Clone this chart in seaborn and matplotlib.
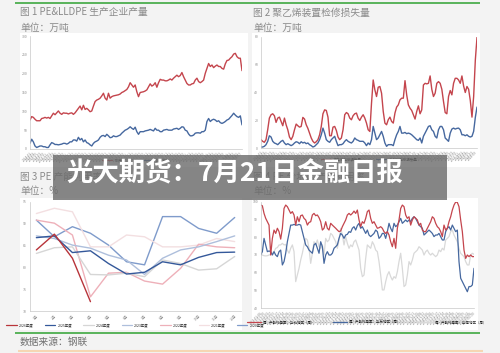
import numpy as np
import pandas as pd
import matplotlib
matplotlib.use("Agg")
import matplotlib.pyplot as plt
from matplotlib.patches import Rectangle
from matplotlib.lines import Line2D
import seaborn as sns

sns.set_style("white")
plt.rcParams['font.family'] = ['Noto Sans CJK SC', 'DejaVu Sans']
plt.rcParams['axes.unicode_minus'] = False

# ---------------- data ----------------
# Fig 1: PE & LLDPE output (万吨), monthly
pe_output = [77, 86, 84, 79, 75, 75, 75, 81, 82, 84,
             82, 84, 81, 88, 95, 91, 96, 101, 95, 92,
             96, 95, 95, 93, 95, 96, 92, 96, 102, 108,
             114, 104, 116, 105, 108, 104, 99, 101, 114, 126,
             130, 132, 135, 141, 148, 135, 130, 148, 135, 139,
             141, 142, 143, 144, 146, 150, 152, 155, 158, 165,
             176, 170, 164, 170, 152, 139, 150, 151, 152, 154,
             157, 165, 173, 167, 170, 176, 164, 176, 185, 183,
             183, 181, 181, 183, 186, 183, 188, 192, 196, 192,
             195, 203, 192, 183, 174, 170, 170, 173, 174, 183,
             188, 179, 176, 179, 183, 201, 214, 227, 219, 223,
             216, 220, 223, 219, 219, 214, 212, 226, 235, 236,
             241, 245, 252, 254, 245, 241, 241, 208]
lldpe_output = [15, 26, 19, 8, 4, 6, 8, 8, 6, 6,
                4, 4, 11, 17, 15, 12, 12, 11, 12, 13,
                15, 15, 13, 15, 19, 19, 24, 24, 21, 31,
                24, 28, 19, 24, 17, 15, 11, 8, 15, 19,
                21, 24, 31, 35, 36, 33, 39, 35, 30, 31,
                35, 33, 33, 35, 37, 42, 46, 50, 52, 55,
                59, 55, 52, 58, 46, 39, 46, 46, 46, 48,
                49, 50, 52, 50, 48, 55, 50, 50, 46, 46,
                50, 51, 52, 50, 50, 50, 53, 54, 55, 52,
                55, 59, 58, 50, 48, 40, 35, 35, 37, 42,
                43, 43, 42, 46, 46, 50, 73, 81, 73, 77,
                79, 77, 73, 75, 70, 68, 70, 73, 77, 79,
                84, 89, 95, 90, 86, 84, 88, 64]

# Fig 2: maintenance loss (万吨)
loss_pe = [6.0, 4.8, 4.1, 6.0, 13.1, 21.5, 23.9, 24.6, 23.2, 18.4,
           21.5, 22.2, 19.1, 16.0, 21.5, 16.7, 13.1, 7.9, 6.0, 8.4,
           13.1, 17.2, 16.0, 15.0, 15.5, 22.0, 20.8, 16.7, 14.1, 10.7,
           7.2, 4.8, 3.6, 4.5, 6.0, 9.5, 15.5, 24.6, 27.4, 27.0,
           22.2, 8.8, 8.8, 15.0, 15.5, 12.6, 7.9, 6.0, 7.2, 13.1,
           23.9, 25.5, 24.6, 21.5, 20.3, 23.2, 24.6, 25.1, 21.5, 19.8,
           22.2, 23.9, 21.5, 17.9, 13.1, 11.9, 32.2, 48.9, 41.8, 37.0,
           43.7, 44.2, 39.4, 26.3, 17.9, 16.7, 20.3, 22.2, 19.1, 17.9,
           25.1, 29.4, 31.0, 34.6, 35.8, 35.8, 48.4, 38.2, 31.0, 28.6,
           27.0, 23.9, 20.8, 26.3, 30.3, 24.6, 27.4, 45.3, 46.5, 46.1,
           46.5, 51.8, 42.2, 37.0, 39.4, 46.5, 47.7, 46.5, 42.2, 33.4,
           25.5, 24.6, 37.0, 41.3, 38.2, 46.5, 50.1, 50.1, 48.9, 46.5,
           51.8, 44.6, 39.9, 44.2, 42.2, 34.1, 22.2, 37.0, 63.2, 79.5]
loss_lldpe = [0.7, 0.7, 1.2, 2.4, 4.8, 8.8, 7.9, 4.8, 3.6, 3.1,
              2.4, 3.6, 4.8, 5.5, 3.6, 2.4, 3.1, 2.4, 1.7, 2.4,
              3.6, 4.5, 4.1, 3.1, 4.5, 3.6, 4.1, 3.1, 3.6, 2.4,
              1.7, 0.7, 1.2, 2.4, 3.6, 6.0, 9.5, 14.3, 10.7, 6.0,
              4.8, 4.1, 6.0, 7.2, 8.4, 4.8, 1.7, 2.4, 2.4, 3.1,
              4.8, 6.0, 4.8, 4.1, 3.6, 4.8, 7.2, 6.0, 5.5, 4.8,
              4.8, 4.8, 3.6, 1.7, 3.6, 2.4, 6.0, 15.5, 10.7, 6.0,
              7.2, 9.5, 11.9, 8.4, 3.6, 1.2, 2.4, 2.4, 2.4, 1.7,
              6.0, 9.5, 11.9, 15.5, 10.7, 10.7, 11.2, 10.3, 10.7, 10.3,
              9.5, 8.4, 7.2, 6.0, 5.5, 7.2, 3.6, 8.4, 10.7, 13.1,
              15.5, 16.0, 13.1, 11.9, 8.4, 7.2, 13.1, 15.5, 15.5, 13.1,
              7.2, 6.0, 4.8, 10.7, 13.6, 14.3, 13.6, 14.1, 14.3, 13.1,
              9.5, 9.5, 8.8, 9.5, 8.4, 7.9, 8.4, 12.0, 22.0, 29.4]

# Fig 3: PE capacity utilisation by year (%)
months = ["1月", "2月", "3月", "4月", "5月", "6月", "7月", "8月", "9月", "10月", "11月", "12月"]
util_2026 = [84.0, 87.6, 82.1, 72.2]
util_2025 = [86.8, 87.2, 83.4, 83.8, 80.9, 78.5, 78.9, 81.3, 80.6, 82.3, 83.4, 83.5]
util_2024 = [83.2, 84.5, 84.7, 78.4, 78.3, 78.7, 77.9, 81.7, 80.9, 79.4, 79.7, 82.5]
util_2023 = [87.2, 86.6, 85.1, 84.4, 82.8, 81.7, 78.4, 82.1, 84.0, 84.7, 85.9, 87.2]
util_2022 = [90.8, 90.1, 87.4, 73.3, 78.7, 78.9, 76.9, 76.2, 79.8, 85.3, 84.7, 84.5]
util_2021 = [92.3, 93.5, 92.7, 84.7, 84.7, 87.4, 87.0, 84.7, 84.7, 85.1, 86.6, 85.9]
util_2020 = [90.8, 87.0, 89.3, 87.8, 85.1, 81.3, 80.6, 91.6, 91.6, 88.9, 87.8, 91.4]
year_labels = ["2026年度", "2025年度", "2024年度", "2023年度", "2022年度", "2021年度", "2020年度"]

# Fig 4: weekly regional utilisation (%)
util_north = [98.1, 97.7, 93.4, 90.6, 88.7, 86.8, 69.9, 79.3, 84.0, 82.1,
              85.0, 83.1, 78.9, 85.0, 96.2, 98.1, 97.2, 95.3, 93.4, 94.4,
              92.5, 86.8, 91.5, 88.7, 92.1, 92.5, 90.6, 89.7, 86.8, 88.3,
              88.7, 92.5, 93.4, 92.1, 92.5, 91.0, 88.7, 84.0, 85.0, 88.7,
              85.0, 84.0, 87.8, 86.8, 85.9, 85.0, 84.0, 83.1, 83.5, 85.9,
              87.8, 89.7, 92.5, 93.4, 92.5, 93.4, 94.7, 93.4, 95.3, 89.7,
              85.9, 88.7, 87.8, 90.6, 94.4, 95.3, 90.6, 87.8, 88.7, 86.8,
              85.0, 85.3, 85.9, 85.0, 83.1, 82.1, 83.1, 81.2, 77.4, 74.6,
              79.3, 73.7, 85.0, 89.7, 96.2, 98.1, 97.2, 92.5, 90.6, 91.5,
              86.8, 89.7, 91.5, 90.6, 89.7, 86.8, 87.8, 84.0, 83.1, 83.1,
              85.0, 86.8, 88.7, 91.5, 90.6, 87.8, 85.9, 85.0, 83.1, 80.3,
              86.8, 84.0, 85.0, 88.7, 91.5, 95.3, 98.1, 99.8, 99.6, 97.2,
              89.7, 83.1, 72.7, 68.0, 69.9, 69.0, 69.9, 69.0, 69.0]
util_east = [69.9, 71.8, 79.3, 75.6, 71.8, 72.2, 71.8, 69.9, 71.8, 69.9,
             69.0, 71.8, 72.7, 64.3, 66.2, 70.9, 77.4, 82.1, 86.8, 86.8,
             87.2, 86.8, 86.8, 87.2, 86.8, 83.1, 79.3, 75.6, 74.6, 72.7,
             71.8, 70.9, 75.6, 76.5, 73.7, 70.9, 77.4, 74.6, 65.2, 69.9,
             71.8, 69.9, 69.9, 70.9, 73.7, 74.6, 75.6, 79.3, 82.1, 81.2,
             79.3, 81.2, 81.6, 83.1, 82.7, 85.0, 85.9, 84.0, 86.5, 87.8,
             85.0, 85.9, 84.0, 82.1, 84.0, 81.2, 80.3, 81.2, 82.1, 84.0,
             83.1, 79.3, 80.3, 82.1, 82.1, 79.3, 83.1, 87.8, 85.0, 83.1,
             87.8, 85.9, 86.8, 88.7, 90.6, 87.8, 88.7, 89.7, 88.7, 89.7,
             88.7, 90.6, 91.5, 90.6, 88.7, 86.8, 85.9, 85.0, 81.2, 82.1,
             83.1, 84.0, 83.1, 82.1, 80.3, 81.2, 81.2, 82.1, 80.3, 78.4,
             78.4, 83.1, 85.0, 85.9, 84.0, 86.8, 85.0, 83.1, 84.0, 66.2,
             56.8, 54.9, 53.0, 51.1, 49.2, 52.1, 52.1, 53.0, 62.4]
util_south = [70.3, 69.9, 69.5, 69.4, 69.5, 69.9, 70.3, 70.9, 71.8, 73.7,
              74.1, 75.6, 75.6, 76.5, 75.6, 75.9, 72.7, 70.9, 73.7, 75.6,
              71.8, 54.9, 58.6, 62.4, 67.1, 70.9, 75.6, 79.3, 78.4, 73.7,
              65.2, 70.9, 77.4, 75.6, 78.4, 74.6, 73.7, 75.6, 69.9, 79.3,
              77.4, 78.4, 82.1, 81.2, 79.3, 77.4, 73.7, 78.4, 85.0, 81.2,
              75.6, 80.3, 76.5, 73.7, 75.6, 74.6, 77.4, 78.4, 75.6, 72.7,
              62.4, 57.7, 58.6, 68.0, 75.6, 74.6, 73.7, 77.4, 75.6, 72.7,
              71.8, 66.2, 58.6, 50.2, 50.2, 54.9, 58.6, 60.5, 57.7, 55.8,
              57.7, 56.8, 60.5, 66.2, 70.9, 62.4, 52.1, 53.0, 58.6, 66.2,
              64.3, 67.1, 70.9, 71.8, 72.7, 74.6, 73.7, 72.7, 69.9, 71.8,
              72.7, 70.9, 69.9, 70.9, 69.9, 69.0, 69.9, 72.7, 71.8, 73.7,
              72.7, 78.4, 79.3, 80.3, 83.1, 84.0, 81.2, 79.3, 77.4, 73.7,
              70.9, 69.9, 69.0, 66.2, 64.3, 64.3, 69.9, 70.9, 70.3]

# tick label texts
labels_1 = [d.strftime('%Y-%m') for d in pd.date_range('2014-01-01', periods=len(pe_output), freq='MS')]
labels_2 = [d.strftime('%Y-%m') for d in pd.date_range('2014-01-01', periods=len(loss_pe), freq='MS')]
labels_4 = [d.strftime('%Y-%m-%d') for d in pd.date_range('2023-01-06', periods=len(util_north), freq='7D')]

# ---------------- styling ----------------
RED = '#c4454d'
BLUE = '#46689f'
W, H = 500, 353
BG = '#f3f3f3'
TXT = '#8a8a8a'

fig = plt.figure(figsize=(5, 3.53), dpi=100, facecolor=BG)


def fx(px):
    return px / W


def fy(py):
    return 1 - py / H


def panel(x0, y0, x1, y1):
    fig.add_artist(Rectangle((fx(x0), fy(y1)), (x1 - x0) / W, (y1 - y0) / H,
                             transform=fig.transFigure, facecolor='white',
                             edgecolor='none', zorder=-5))


def hline(x0, x1, y, color, lw):
    fig.add_artist(Line2D([fx(x0), fx(x1)], [fy(y), fy(y)], transform=fig.transFigure,
                          color=color, lw=lw, zorder=-4, solid_capstyle='butt'))


def make_ax(left, top, right, bottom):
    return fig.add_axes([fx(left), fy(bottom), (right - left) / W, (bottom - top) / H])


def style(ax, ymin, ymax, ystep):
    ax.set_facecolor('white')
    for s in ['top', 'right']:
        ax.spines[s].set_visible(False)
    for s in ['left', 'bottom']:
        ax.spines[s].set_color('#c8c8c8')
        ax.spines[s].set_linewidth(0.5)
    ax.set_ylim(ymin, ymax)
    ax.set_yticks(np.arange(ymin, ymax + ystep / 2, ystep))
    ax.tick_params(axis='both', labelsize=2.5, colors='#8c8c8c', length=1, width=0.3, pad=1)
    ax.set_xlabel('')
    ax.set_ylabel('')


def dense_xticks(ax, labels, step=2, fs=2.4):
    pos = list(range(0, len(labels), step))
    ax.set_xticks(pos)
    ax.set_xticklabels([labels[p] for p in pos], rotation=45, ha='right',
                       rotation_mode='anchor', fontsize=fs, color='#8c8c8c')


# white panels and decorative lines
panel(20, 33, 248, 167)
panel(252, 33, 480, 167)
panel(20, 198, 242, 330)
panel(252, 198, 478, 330)
hline(15, 480, 3.3, '#4cae4f', 1.3)
hline(15, 480, 332.5, '#4cae4f', 1.3)
hline(18, 483, 351.3, '#f6d6b3', 1.5)

# titles
tkw = dict(fontsize=7, color=TXT, va='center', ha='left')
fig.text(fx(20), fy(12.5), "图 1 PE&LLDPE 生产企业产量", **tkw)
fig.text(fx(20), fy(27.5), "单位：万吨", **tkw)
fig.text(fx(253), fy(12.5), "图 2 聚乙烯装置检修损失量", **tkw)
fig.text(fx(253), fy(27.5), "单位：万吨", **tkw)
fig.text(fx(20), fy(176.5), "图 3 PE 产能利用率", **tkw)
fig.text(fx(20), fy(191), "单位：%", **tkw)
fig.text(fx(253), fy(176.5), "图 4 PE 分地区产能利用率", **tkw)
fig.text(fx(253), fy(191), "单位：%", **tkw)
fig.text(fx(20), fy(342), "数据来源：钢联", fontsize=7, color='#707070', va='center', ha='left')

# ---------------- chart 1 ----------------
ax1 = make_ax(30, 36, 242, 149)
df1 = pd.DataFrame({'x': np.arange(len(pe_output)),
                    'PE产量': pe_output, 'LLDPE产量': lldpe_output}).melt('x', var_name='s', value_name='v')
sns.lineplot(data=df1, x='x', y='v', hue='s', palette=[RED, BLUE], linewidth=1.0,
             legend=False, ax=ax1)
style(ax1, 0, 300, 50)
ax1.set_xlim(0, len(pe_output) - 1)
dense_xticks(ax1, labels_1)
ax1.legend(handles=[Line2D([], [], color=RED, lw=0.8), Line2D([], [], color=BLUE, lw=0.8)],
           labels=['PE产量', 'LLDPE产量'], loc='center', bbox_to_anchor=(0.5, -0.1),
           ncol=2, fontsize=2.5, frameon=False, handlelength=3, columnspacing=4)

# ---------------- chart 2 ----------------
ax2 = make_ax(261, 36.7, 477, 148)
df2 = pd.DataFrame({'x': np.arange(len(loss_pe)),
                    '聚乙烯检修损失量': loss_pe, 'LLDPE检修损失量': loss_lldpe}).melt('x', var_name='s', value_name='v')
sns.lineplot(data=df2, x='x', y='v', hue='s', palette=[RED, BLUE], linewidth=1.0,
             legend=False, ax=ax2)
style(ax2, 0, 80, 20)
ax2.set_xlim(0, len(loss_pe) - 1)
dense_xticks(ax2, labels_2)
ax2.legend(handles=[Line2D([], [], color=RED, lw=0.8), Line2D([], [], color=BLUE, lw=0.8)],
           labels=['聚乙烯检修损失量', 'LLDPE检修损失量'], loc='center', bbox_to_anchor=(0.5, -0.1),
           ncol=2, fontsize=2.5, frameon=False, handlelength=3, columnspacing=4)

# ---------------- chart 3 ----------------
ax3 = make_ax(29.7, 201.7, 241, 311.3)
year_series = [util_2026, util_2025, util_2024, util_2023, util_2022, util_2021, util_2020]
year_colors = ['#b8343a', '#34589a', '#d6d6d6', '#aebfdc', '#eeb0b9', '#f3dfe1', '#7f9bcb']
for lab, vals, col in reversed(list(zip(year_labels, year_series, year_colors))):
    d = pd.DataFrame({'m': np.arange(len(vals)), 'v': vals})
    sns.lineplot(data=d, x='m', y='v', color=col, linewidth=1.0, ax=ax3)
style(ax3, 70, 95, 5)
ax3.set_xlim(-0.37, 11.35)
ax3.set_xticks(range(12))
ax3.set_xticklabels(months, rotation=45, ha='right', rotation_mode='anchor',
                    fontsize=2.5, color='#8c8c8c')
ax3.legend(handles=[Line2D([], [], color=c, lw=0.9) for c in year_colors], labels=year_labels,
           loc='center', bbox_to_anchor=(0.5, -0.125), ncol=7, fontsize=2.5, frameon=False,
           handlelength=3, columnspacing=3.2, handletextpad=0.6)

# ---------------- chart 4 ----------------
ax4 = make_ax(260.7, 201.7, 474, 308)
reg_labels = ['周：产能利用率：华北地区（周）', '周：产能利用率：华东地区（周）', '周：产能利用率：华南地区（周）']
reg_colors = [RED, BLUE, '#d9d9d9']
df4 = pd.DataFrame({'x': np.arange(len(util_north)),
                    reg_labels[2]: util_south, reg_labels[1]: util_east,
                    reg_labels[0]: util_north}).melt('x', var_name='s', value_name='v')
sns.lineplot(data=df4, x='x', y='v', hue='s', hue_order=[reg_labels[2], reg_labels[1], reg_labels[0]],
             palette=[reg_colors[2], reg_colors[1], reg_colors[0]], linewidth=0.9,
             legend=False, ax=ax4)
style(ax4, 40, 100, 10)
ax4.set_xlim(0, len(util_north) - 1)
dense_xticks(ax4, labels_4)
ax4.legend(handles=[Line2D([], [], color=c, lw=0.9) for c in reg_colors], labels=reg_labels,
           loc='center', bbox_to_anchor=(0.5, -0.135), ncol=3, fontsize=2.5, frameon=False,
           handlelength=4, columnspacing=5, handletextpad=0.6)

# ---------------- overlay banner ----------------
fig.add_artist(Rectangle((fx(53), fy(199.5)), 394 / W, 44.5 / H, transform=fig.transFigure,
                         facecolor='#6a6a6a', edgecolor='none', alpha=0.8, zorder=20))
fig.text(fx(66), fy(174), "光大期货：7月21日金融日报", color='white', fontsize=19,
         fontweight='bold', va='center', ha='left', zorder=21)

fig.savefig('out.png', dpi=100, facecolor=BG)
